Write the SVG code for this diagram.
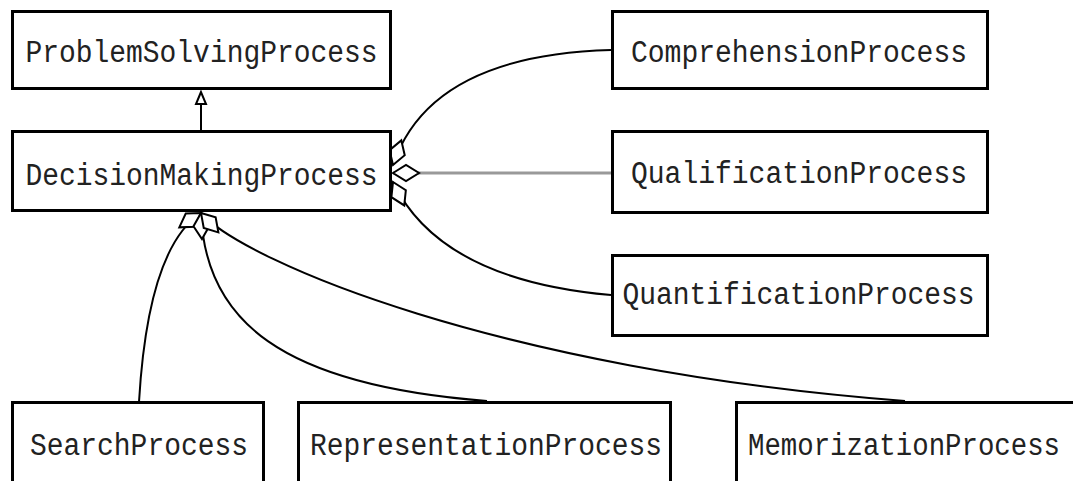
<svg xmlns="http://www.w3.org/2000/svg" width="1073" height="481" viewBox="0 0 1073 481">
  <style>
    .box { fill: #ffffff; stroke: #000000; stroke-width: 3; }
    .lbl { font-family: "Liberation Mono", "DejaVu Sans Mono", monospace; font-size: 31px; fill: #222222; text-anchor: middle; }
    .conn { fill: none; stroke: #000000; stroke-width: 2; }
    .grey { fill: none; stroke: #999999; stroke-width: 3; }
  </style>
  <defs>
    <marker id="diamond" markerUnits="userSpaceOnUse" markerWidth="40" markerHeight="30" refX="1" refY="10" viewBox="0 0 40 30" orient="auto" overflow="visible">
      <polygon points="1,10 14,2 27,10 14,18" fill="#ffffff" stroke="#000000" stroke-width="2"/>
    </marker>
    <marker id="gen" markerUnits="userSpaceOnUse" markerWidth="20" markerHeight="20" refX="12" refY="6" viewBox="0 0 20 20" orient="auto" overflow="visible">
      <polygon points="12,6 0,1 0,11" fill="#ffffff" stroke="#000000" stroke-width="2"/>
    </marker>
  </defs>

  <g id="connectors">
    <line class="conn" x1="201" y1="130" x2="201" y2="92" marker-end="url(#gen)"/>
    <line x1="389.5" y1="152" x2="389.5" y2="202" stroke="#999999" stroke-width="2"/>
    <path class="conn" d="M393,165 Q430,55 611,50" marker-start="url(#diamond)"/>
    <path class="grey" d="M393,173 L611,173"/>
    <path d="M393,173 L611,173" fill="none" stroke="none" marker-start="url(#diamond)"/>
    <path class="conn" d="M393,182 Q440,280 611,295" marker-start="url(#diamond)"/>
    <path class="conn" d="M201,213 Q148,248 139,402" marker-start="url(#diamond)"/>
    <path class="conn" d="M201,213 C205,320 280,385 487,401" marker-start="url(#diamond)"/>
    <path class="conn" d="M201,213 C245,262 500,370 905,401" marker-start="url(#diamond)"/>
  </g>

  <g id="ProblemSolvingProcess">
    <rect class="box" x="12.5" y="11.5" width="378" height="77"/>
    <text class="lbl" x="201.5" y="62" textLength="352" lengthAdjust="spacingAndGlyphs">ProblemSolvingProcess</text>
  </g>
  <g id="DecisionMakingProcess">
    <rect class="box" x="12.5" y="131.5" width="378" height="79"/>
    <text class="lbl" x="201.5" y="185" textLength="352" lengthAdjust="spacingAndGlyphs">DecisionMakingProcess</text>
  </g>
  <g id="ComprehensionProcess">
    <rect class="box" x="612.5" y="11.5" width="375" height="77"/>
    <text class="lbl" x="799" y="62" textLength="336" lengthAdjust="spacingAndGlyphs">ComprehensionProcess</text>
  </g>
  <g id="QualificationProcess">
    <rect class="box" x="612.5" y="131.5" width="375" height="81"/>
    <text class="lbl" x="799" y="183" textLength="336" lengthAdjust="spacingAndGlyphs">QualificationProcess</text>
  </g>
  <g id="QuantificationProcess">
    <rect class="box" x="612.5" y="255.5" width="375" height="80"/>
    <text class="lbl" x="798.5" y="304" textLength="352" lengthAdjust="spacingAndGlyphs">QuantificationProcess</text>
  </g>
  <g id="SearchProcess">
    <rect class="box" x="12.5" y="402.5" width="251" height="110"/>
    <text class="lbl" x="139" y="455" textLength="218" lengthAdjust="spacingAndGlyphs">SearchProcess</text>
  </g>
  <g id="RepresentationProcess">
    <rect class="box" x="298.5" y="402.5" width="372" height="110"/>
    <text class="lbl" x="486" y="455" textLength="352" lengthAdjust="spacingAndGlyphs">RepresentationProcess</text>
  </g>
  <g id="MemorizationProcess">
    <rect class="box" x="736.5" y="402.5" width="400" height="110"/>
    <text class="lbl" x="904" y="455" textLength="312" lengthAdjust="spacingAndGlyphs">MemorizationProcess</text>
  </g>
</svg>
